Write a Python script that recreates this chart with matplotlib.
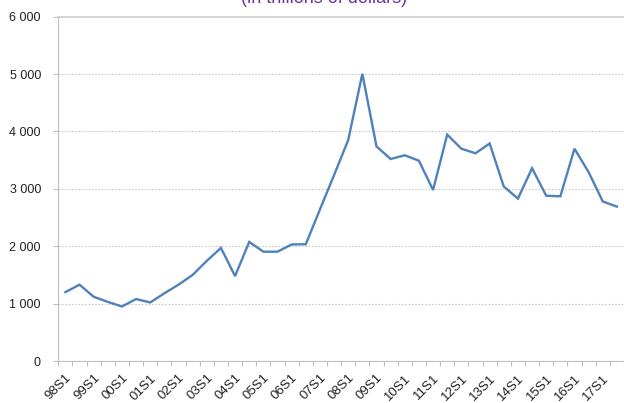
import numpy as np
import matplotlib
matplotlib.use("Agg")
import matplotlib.pyplot as plt
from matplotlib.ticker import FuncFormatter

plt.rcParams['font.family'] = ['Liberation Sans', 'DejaVu Sans']

# half-year periods, 1998 S1 to 2017 S2
periods = []
for yr in range(1998, 2018):
    periods.append(f"{yr % 100:02d}S1")
    periods.append(f"{yr % 100:02d}S2")

# outstanding amount (in trillions of dollars)
values = [1200, 1330, 1120, 1030, 950, 1080, 1020, 1180, 1330, 1500,
          1745, 1970, 1480, 2075, 1905, 1905, 2030, 2035, 2640, 3240,
          3850, 5005, 3740, 3520, 3585, 3490, 2980, 3945, 3700, 3620,
          3790, 3040, 2830, 3360, 2880, 2870, 3700, 3290, 2780, 2690]

x = np.arange(len(values))

fig = plt.figure(figsize=(6.24, 4.03), dpi=100)
ax = fig.add_axes([0.0934, 0.1042, 0.9066, 0.8544])

ax.plot(x, values, color='#4f81bd', linewidth=1.7, solid_joinstyle='miter')

ax.set_ylim(0, 6000)
ax.set_xlim(-0.5, 38.89)
ax.set_yticks(np.arange(0, 6001, 1000))
ax.yaxis.set_major_formatter(FuncFormatter(lambda v, p: f"{int(v):,}".replace(',', ' ')))
ax.grid(axis='y', color='#c8c8c8', linestyle=(0, (1.5, 1.5)), linewidth=0.8)
ax.axhline(6000, color='#d4d4d4', linewidth=1.4, clip_on=False)

# category labels every other half-year, tick marks between categories
ax.set_xticks(x[::2])
ax.set_xticklabels(periods[::2], rotation=45, ha='right', va='top',
                   rotation_mode='anchor')
ax.set_xticks(np.arange(len(values) + 1) - 0.5, minor=True)
ax.tick_params(axis='x', which='major', length=0, pad=8, labelsize=9.5, labelcolor='#222222')
ax.tick_params(axis='x', which='minor', length=3.5, width=0.8, color='#bfbfbf')
ax.tick_params(axis='y', length=3.5, width=0.8, color='#bfbfbf', labelsize=9,
               labelcolor='#222222', pad=9)

for side in ['top', 'right']:
    ax.spines[side].set_visible(False)
for side in ['left', 'bottom']:
    ax.spines[side].set_color('#bfbfbf')
    ax.spines[side].set_linewidth(0.8)

fig.text(0.52, 0.9926, "(in trillions of dollars)", color='#7030a0',
         fontsize=13, ha='center', va='baseline')

fig.savefig('out.png', dpi=100)
